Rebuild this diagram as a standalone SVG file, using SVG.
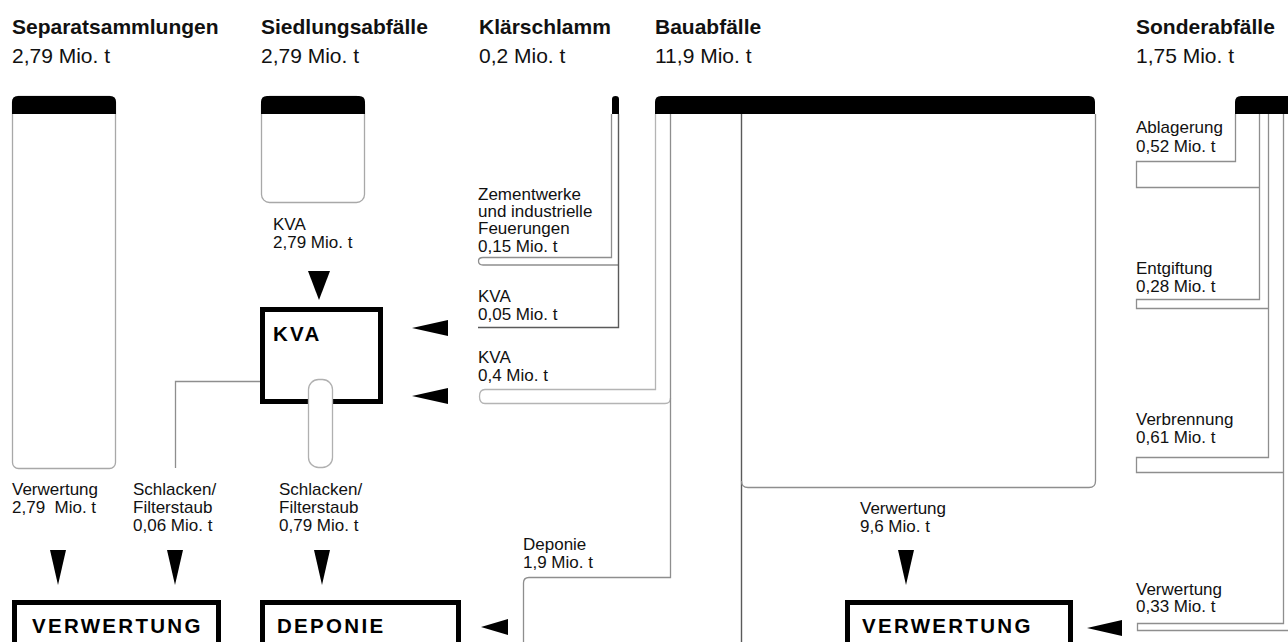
<svg xmlns="http://www.w3.org/2000/svg" width="1288" height="642" viewBox="0 0 1288 642">
<style>
.h{font-family:"Liberation Sans",Arial,sans-serif;font-size:21px;font-weight:bold;fill:#111}
.s{font-family:"Liberation Sans",Arial,sans-serif;font-size:21px;fill:#111}
.l{font-family:"Liberation Sans",Arial,sans-serif;font-size:17px;fill:#111}
.b{font-family:"Liberation Sans",Arial,sans-serif;font-size:20.5px;font-weight:bold;letter-spacing:2.3px;fill:#000}
.f{fill:none;stroke:#8e8e8e;stroke-width:1.3}
.fl{fill:none;stroke:#b4b4b4;stroke-width:1.3}
.fd{fill:none;stroke:#5a5a5a;stroke-width:1.4}
.box{fill:#fff;stroke:#000;stroke-width:5}
.hdr{fill:#000}
.ar{fill:#000}
</style>

<g id="separatsammlungen">
<text class="h" x="12" y="34">Separatsammlungen</text>
<text class="s" x="12" y="63">2,79 Mio. t</text>
<rect x="12.5" y="96.5" width="103" height="372" rx="6" fill="#fff" stroke="#a8a8a8" stroke-width="1.3"/>
<path class="hdr" d="M12,114 V102 Q12,96 18,96 H110 Q116,96 116,102 V114 Z"/>
</g>

<g id="siedlungsabfaelle">
<text class="h" x="261" y="34">Siedlungsabfälle</text>
<text class="s" x="261" y="63">2,79 Mio. t</text>
<rect x="261.5" y="96.5" width="103" height="106" rx="8" fill="#fff" stroke="#a8a8a8" stroke-width="1.3"/>
<path class="hdr" d="M261,114 V102 Q261,96 267,96 H359 Q365,96 365,102 V114 Z"/>
</g>

<g id="klaerschlamm">
<text class="h" x="479" y="34">Klärschlamm</text>
<text class="s" x="479" y="63">0,2 Mio. t</text>
<path class="hdr" d="M612,114 V99 Q612,96 615.5,96 Q619,96 619,99 V114 Z"/>
</g>

<g id="bauabfaelle">
<text class="h" x="655" y="34">Bauabfälle</text>
<text class="s" x="655" y="63">11,9 Mio. t</text>
<path class="hdr" d="M655,114 V102 Q655,96 661,96 H1089 Q1095,96 1095,102 V114 Z"/>
</g>

<g id="sonderabfaelle">
<text class="h" x="1136" y="34">Sonderabfälle</text>
<text class="s" x="1136" y="63">1,75 Mio. t</text>
<path class="hdr" d="M1235,114 V102 Q1235,96 1241,96 H1292 V114 Z"/>
</g>

<g id="connectors">
<path class="f" d="M611.5,114 V257.5 H483 Q478.5,257.5 478.5,261 Q478.5,265 483,265 H618.5"/>
<path class="fd" d="M618.5,114 V327.5 H478"/>
<path class="fl" d="M655.5,114 V389.5 H485 Q479.5,389.5 479.5,396.5 Q479.5,403.5 485,403.5 H665 Q670.5,403.5 670.5,398"/>
<path class="f" d="M670.5,114 V577.5 H529 Q523.5,577.5 523.5,583 V642"/>
<path class="fd" d="M741.5,114 V642"/>
<path class="f" d="M741.5,481 Q741.5,487.5 748,487.5 H1089 Q1095.5,487.5 1095.5,481 V114"/>
<path class="f" d="M1235.5,114 V161.5 H1136.5 V187.5 H1259.5"/>
<path class="f" d="M1259.5,114 V299.5 H1136.5 V308.5 H1268.5"/>
<path class="f" d="M1268.5,114 V457.5 H1136.5 V472.5 H1283.5"/>
<path class="f" d="M1283.5,114 V623.5 H1137.5 V630.5 H1290"/>
<path class="f" d="M283,381.5 H175.5 V468"/>
<polygon class="ar" points="308,271 330,271 319,300"/>
<polygon class="ar" points="412,328 448,320 448,336"/>
<polygon class="ar" points="412,396 448,388 448,404"/>
<polygon class="ar" points="50,550 66,550 58,585"/>
<polygon class="ar" points="167,550 183,550 175,585"/>
<polygon class="ar" points="314,550 330,550 322,585"/>
<polygon class="ar" points="898,550 914,550 906,585"/>
<polygon class="ar" points="481,627 508,619 508,635"/>
<polygon class="ar" points="1087,628 1122,620 1122,636"/>
</g>

<g id="kva">
<rect class="box" x="262.5" y="309.5" width="118" height="92"/>
<text class="b" x="273" y="341">KVA</text>
<rect x="308.5" y="379.5" width="24" height="88" rx="10" fill="#fff" stroke="#b0b0b0" stroke-width="1.3"/>
</g>

<g id="verwertung-links">
<rect class="box" x="14.5" y="602.5" width="204" height="60"/>
<text class="b" x="32" y="633">VERWERTUNG</text>
</g>

<g id="deponie">
<rect class="box" x="262.5" y="602.5" width="196" height="60"/>
<text class="b" x="277" y="633">DEPONIE</text>
</g>

<g id="verwertung-rechts">
<rect class="box" x="847.5" y="602.5" width="223" height="60"/>
<text class="b" x="862" y="633">VERWERTUNG</text>
</g>

<g id="labels">
<text class="l" x="273" y="230">KVA</text>
<text class="l" x="273" y="248">2,79 Mio. t</text>
<text class="l" x="478" y="200">Zementwerke</text>
<text class="l" x="478" y="217">und industrielle</text>
<text class="l" x="478" y="234">Feuerungen</text>
<text class="l" x="478" y="252">0,15 Mio. t</text>
<text class="l" x="478" y="302">KVA</text>
<text class="l" x="478" y="320">0,05 Mio. t</text>
<text class="l" x="478" y="363">KVA</text>
<text class="l" x="478" y="381">0,4 Mio. t</text>
<text class="l" x="12" y="495">Verwertung</text>
<text class="l" x="12" y="513" xml:space="preserve">2,79  Mio. t</text>
<text class="l" x="133" y="495">Schlacken/</text>
<text class="l" x="133" y="513">Filterstaub</text>
<text class="l" x="133" y="531">0,06 Mio. t</text>
<text class="l" x="279" y="495">Schlacken/</text>
<text class="l" x="279" y="513">Filterstaub</text>
<text class="l" x="279" y="531">0,79 Mio. t</text>
<text class="l" x="523" y="550">Deponie</text>
<text class="l" x="523" y="568">1,9 Mio. t</text>
<text class="l" x="860" y="514">Verwertung</text>
<text class="l" x="860" y="532">9,6 Mio. t</text>
<text class="l" x="1136" y="133">Ablagerung</text>
<text class="l" x="1136" y="152">0,52 Mio. t</text>
<text class="l" x="1136" y="274">Entgiftung</text>
<text class="l" x="1136" y="292">0,28 Mio. t</text>
<text class="l" x="1136" y="425">Verbrennung</text>
<text class="l" x="1136" y="443">0,61 Mio. t</text>
<text class="l" x="1136" y="595">Verwertung</text>
<text class="l" x="1136" y="612">0,33 Mio. t</text>
</g>
</svg>
